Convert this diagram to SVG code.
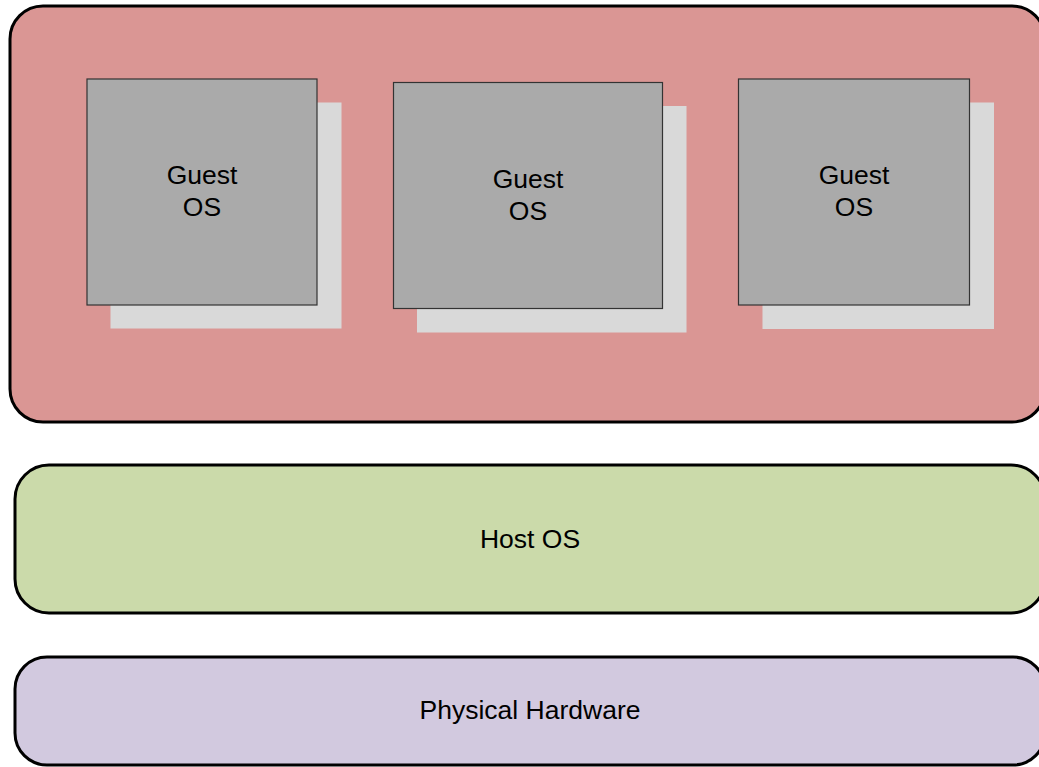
<svg xmlns="http://www.w3.org/2000/svg" width="1039" height="767" viewBox="0 0 1039 767">
<style>
.layer{stroke:#000;stroke-width:3}
.shadow{fill:#D9D9D9}
.guest{fill:#AAAAAA;stroke:#333;stroke-width:1.2}
text{font-family:"Liberation Sans",Arial,sans-serif;font-size:26.5px;fill:#000;text-anchor:middle}
</style>
<rect width="1039" height="767" fill="#fff"/>
<g id="hypervisor">
<rect class="layer" x="10" y="6" width="1035" height="416" rx="33" ry="33" fill="#DA9694"/>
</g>
<g id="guest1">
<rect class="shadow" x="110.5" y="102.5" width="231" height="226"/>
<rect class="guest" x="87" y="79" width="230" height="226"/>
<text x="202" y="184">Guest</text>
<text x="202" y="215.5">OS</text>
</g>
<g id="guest2">
<rect class="shadow" x="417" y="106" width="269.5" height="226.5"/>
<rect class="guest" x="393.5" y="82.5" width="269" height="226"/>
<text x="528" y="188">Guest</text>
<text x="528" y="219.5">OS</text>
</g>
<g id="guest3">
<rect class="shadow" x="762.5" y="102.5" width="231.5" height="226.5"/>
<rect class="guest" x="738.5" y="79" width="231" height="226"/>
<text x="854" y="184">Guest</text>
<text x="854" y="215.5">OS</text>
</g>
<g id="host">
<rect class="layer" x="15" y="465" width="1030" height="148" rx="34" ry="34" fill="#CBDAAA"/>
<text x="530" y="547.5">Host OS</text>
</g>
<g id="hardware">
<rect class="layer" x="15" y="657" width="1030" height="108" rx="32" ry="32" fill="#D2C9DF"/>
<text x="530" y="718.5">Physical Hardware</text>
</g>
<g id="connectors"></g>
</svg>
